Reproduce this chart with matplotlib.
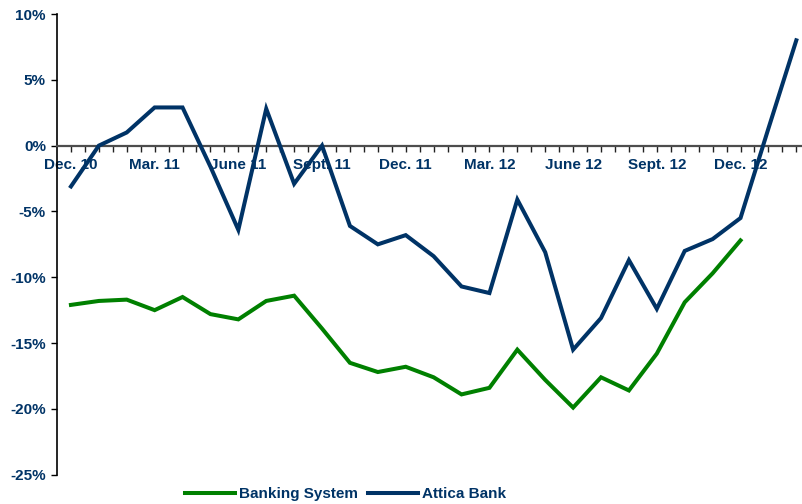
#!usr/bin/env python
'''
deposit growth: Attica Bank vs the banking system, Dec. 10 - Feb. 13
'''

import numpy as np
import matplotlib
matplotlib.use("Agg")
import matplotlib.pyplot as plt

# monthly observations, index 0 = Dec. 10
tick_labels = ["Dec. 10", "Mar. 11", "June 11", "Sept. 11", "Dec. 11",
               "Mar. 12", "June 12", "Sept. 12", "Dec. 12"]

banking_system = [-12.1, -11.8, -11.7, -12.5, -11.5, -12.8, -13.2, -11.8, -11.4,
                  -13.9, -16.5, -17.2, -16.8, -17.6, -18.9, -18.4, -15.5, -17.8,
                  -19.9, -17.6, -18.6, -15.8, -11.9, -9.7, -7.2]

attica_bank = [-3.1, 0.0, 1.0, 2.9, 2.9, -1.6, -6.4, 2.8, -2.9, 0.0, -6.1, -7.5,
               -6.8, -8.4, -10.7, -11.2, -4.1, -8.1, -15.5, -13.1, -8.7, -12.4,
               -8.0, -7.1, -5.5, 1.3, 8.0]

y_ticks = [10, 5, 0, -5, -10, -15, -20, -25]

NAVY = "#003366"
GREEN = "#008000"

plt.rcParams['font.family'] = ['Liberation Sans', 'DejaVu Sans']
plt.rcParams['font.weight'] = 'bold'
plt.rcParams['font.size'] = 11


def plot_deposits():
    fig = plt.figure(figsize=(8.03, 5.04), dpi=100)
    ax = fig.add_axes([57 / 803, 1 - 474.7 / 504, 746 / 803, 460.7 / 504])

    x_bank = np.arange(len(banking_system))
    x_attica = np.arange(len(attica_bank))

    ax.plot(x_bank, banking_system, color=GREEN, lw=2.9, label="Banking System",
            solid_joinstyle='miter', zorder=4)
    ax.plot(x_attica, attica_bank, color=NAVY, lw=2.9, label="Attica Bank",
            solid_joinstyle='miter', zorder=4)

    ax.set_xlim(-0.5, 26.24)
    ax.set_ylim(-25, 10)

    # category axis sits on the zero line
    ax.spines['bottom'].set_position(('data', 0))
    ax.spines['bottom'].set_color('#4d4d4d')
    ax.spines['bottom'].set_linewidth(1.6)
    ax.spines['left'].set_linewidth(1.2)
    ax.spines['top'].set_visible(False)
    ax.spines['right'].set_visible(False)

    ax.set_xticks(np.arange(0, 25, 3))
    ax.set_xticklabels(tick_labels, color=NAVY, fontweight='bold')
    ax.set_xticks(np.arange(0, 26.5, 0.5), minor=True)
    ax.tick_params(axis='x', which='both', direction='out', length=4,
                   width=1.0, color='#222222', pad=5)

    ax.set_yticks(y_ticks)
    ax.set_yticklabels(["%d%%" % v for v in y_ticks], color=NAVY, fontweight='bold')
    ax.tick_params(axis='y', direction='out', length=4, width=1.0, pad=4)

    for lbl in ax.get_xticklabels():
        lbl.set_zorder(1)

    fig.legend(loc='center', bbox_to_anchor=(345.5 / 803, 1 - 494 / 504),
               ncol=2, frameon=False, handlelength=3.3, handletextpad=0.26,
               columnspacing=0.65, prop={'weight': 'bold', 'size': 11},
               labelcolor=NAVY)

    fig.savefig("out.png", dpi=100)


if __name__ == "__main__":
    plot_deposits()
